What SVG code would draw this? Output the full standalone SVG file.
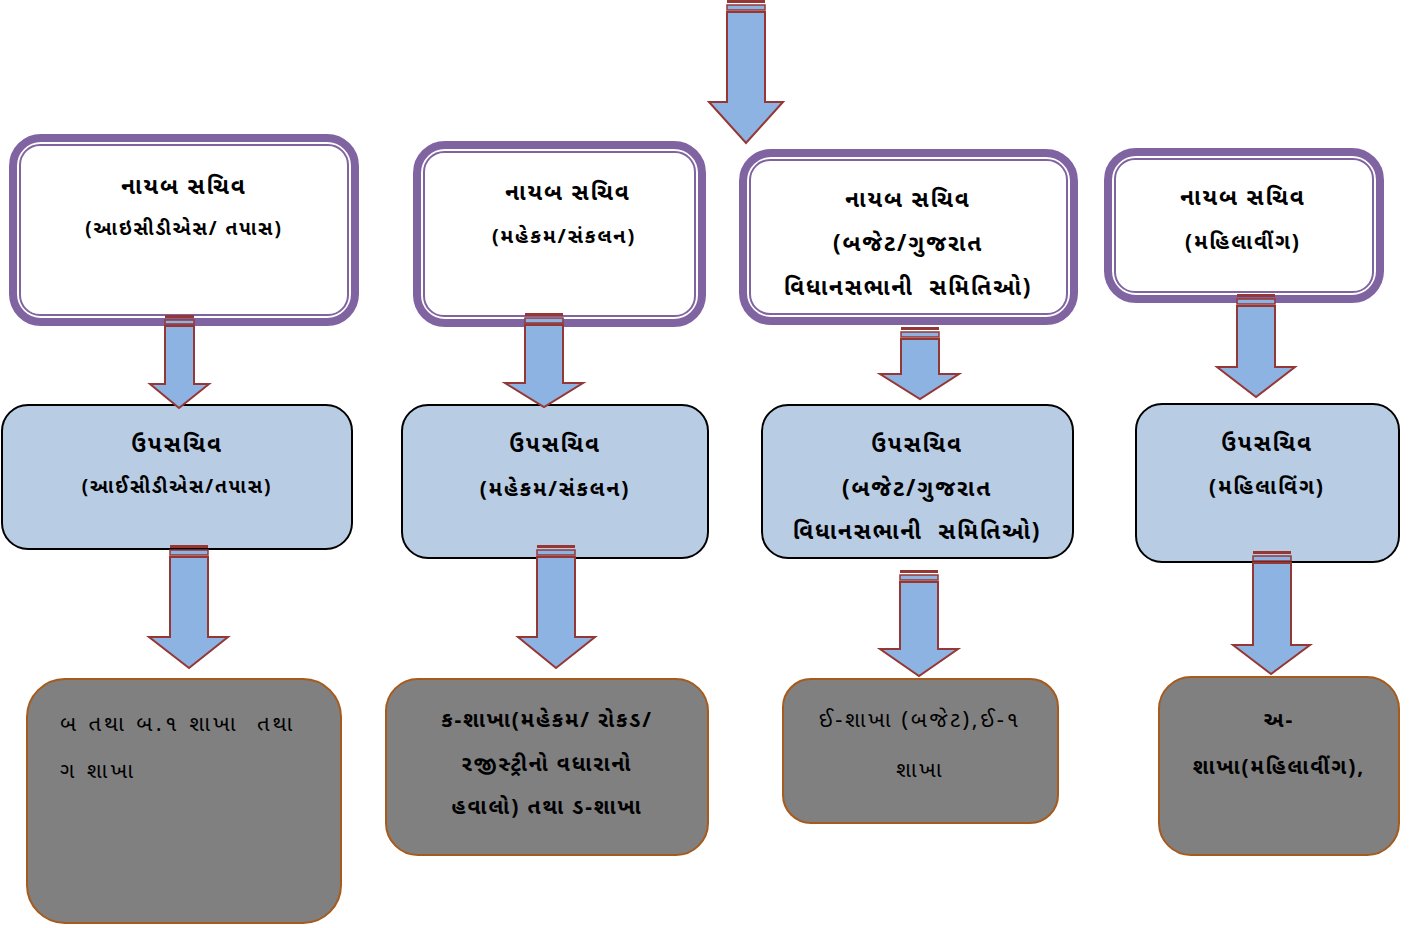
<svg xmlns="http://www.w3.org/2000/svg" width="1424" height="928" viewBox="0 0 1424 928">
<style>
text{font-family:"Noto Sans Gujarati","Noto Sans","DejaVu Sans",sans-serif;fill:#000;text-anchor:middle;white-space:pre}
.b{font-weight:bold;letter-spacing:1.9px}
.r{letter-spacing:2.6px}
.r2{letter-spacing:3.3px}
.outer{fill:#fff;stroke:#8064a2;stroke-width:8}
.inner{fill:none;stroke:#8064a2;stroke-width:2}
.mid{fill:#b8cce4;stroke:#000;stroke-width:2}
.low{fill:#808080;stroke:#a65a1b;stroke-width:2}
.arr{fill:#8db3e2;stroke:#953735;stroke-width:2;stroke-linejoin:miter}
.bar{fill:#953735}
.bar2{fill:#8db3e2;stroke:#953735;stroke-width:1.5}
</style>

<g id="top1">
<rect class="outer" x="13" y="138" width="342" height="184" rx="28"/>
<rect class="inner" x="20" y="145" width="328" height="170" rx="20"/>
<text class="b" x="184" y="194" font-size="22.5">નાયબ સચિવ</text>
<text class="b" x="184" y="235" font-size="19">(આઇસીડીએસ/ તપાસ)</text>
</g>
<g id="top2">
<rect class="outer" x="417" y="145" width="285" height="178" rx="28"/>
<rect class="inner" x="424" y="152" width="271" height="164" rx="20"/>
<text class="b" x="568" y="200" font-size="22.5">નાયબ સચિવ</text>
<text class="b" x="564" y="243" font-size="20">(મહેકમ/સંકલન)</text>
</g>
<g id="top3">
<rect class="outer" x="743" y="153" width="331" height="168" rx="28"/>
<rect class="inner" x="750" y="160" width="317" height="154" rx="20"/>
<text class="b" x="908" y="207" font-size="22.5">નાયબ સચિવ</text>
<text class="b" x="908" y="251" font-size="22.5">(બજેટ/ગુજરાત</text>
<text class="b" x="908" y="295" font-size="22.5">વિધાનસભાની  સમિતિઓ)</text>
</g>
<g id="top4">
<rect class="outer" x="1108" y="152" width="272" height="147" rx="28"/>
<rect class="inner" x="1115" y="159" width="258" height="133" rx="20"/>
<text class="b" x="1243" y="205" font-size="22.5">નાયબ સચિવ</text>
<text class="b" x="1243" y="249" font-size="21">(મહિલાવીંગ)</text>
</g>

<g id="mid1">
<rect class="mid" x="2" y="405" width="350" height="144" rx="26"/>
<text class="b" x="177" y="452" font-size="22.5">ઉપસચિવ</text>
<text class="b" x="177" y="493" font-size="19">(આઈસીડીએસ/તપાસ)</text>
</g>
<g id="mid2">
<rect class="mid" x="402" y="405" width="306" height="153" rx="26"/>
<text class="b" x="555" y="452" font-size="22.5">ઉપસચિવ</text>
<text class="b" x="555" y="496" font-size="21">(મહેકમ/સંકલન)</text>
</g>
<g id="mid3">
<rect class="mid" x="762" y="405" width="311" height="153" rx="26"/>
<text class="b" x="917" y="452" font-size="22.5">ઉપસચિવ</text>
<text class="b" x="917" y="496" font-size="22.5">(બજેટ/ગુજરાત</text>
<text class="b" x="917" y="539" font-size="22.5">વિધાનસભાની  સમિતિઓ)</text>
</g>
<g id="mid4">
<rect class="mid" x="1136" y="404" width="263" height="158" rx="26"/>
<text class="b" x="1267" y="451" font-size="22.5">ઉપસચિવ</text>
<text class="b" x="1267" y="494" font-size="21">(મહિલાવિંગ)</text>
</g>

<g id="low1">
<rect class="low" x="27" y="679" width="314" height="244" rx="38"/>
<text class="r2" x="60" y="731" font-size="22" style="text-anchor:start">બ તથા બ.૧ શાખા  તથા</text>
<text class="r2" x="60" y="778" font-size="22" style="text-anchor:start">ગ શાખા</text>
</g>
<g id="low2">
<rect class="low" x="386" y="679" width="322" height="176" rx="32"/>
<text class="b" x="547" y="727" font-size="21">ક-શાખા(મહેકમ/ રોકડ/</text>
<text class="b" x="547" y="771" font-size="21">રજીસ્ટ્રીનો વધારાનો</text>
<text class="b" x="547" y="814" font-size="21">હવાલો) તથા ડ-શાખા</text>
</g>
<g id="low3">
<rect class="low" x="783" y="679" width="275" height="144" rx="28"/>
<text class="r" x="920" y="727" font-size="22">ઈ-શાખા (બજેટ),ઈ-૧</text>
<text class="r" x="920" y="777" font-size="22">શાખા</text>
</g>
<g id="low4">
<rect class="low" x="1159" y="677" width="240" height="178" rx="32"/>
<text class="b" x="1279" y="727" font-size="21">અ-</text>
<text class="b" x="1279" y="774" font-size="21">શાખા(મહિલાવીંગ),</text>
</g>

<g id="connectors">
<g id="arrow-top">
<rect class="bar" x="727" y="0" width="38" height="3"/>
<rect class="bar2" x="727" y="5" width="38" height="5"/>
<polygon class="arr" points="727,12 765,12 765,102 783,102 746,143 709,102 727,102"/>
</g>
<g id="arrow-a1">
<rect class="bar" x="165" y="315" width="29" height="3"/>
<rect class="bar2" x="165" y="320" width="29" height="4"/>
<polygon class="arr" points="165,326 194,326 194,384 209,384 179,408 150,384 165,384"/>
</g>
<g id="arrow-a2">
<rect class="bar" x="525" y="313" width="38" height="3"/>
<rect class="bar2" x="525" y="318" width="38" height="5"/>
<polygon class="arr" points="525,325 563,325 563,383 583,383 544,407 505,383 525,383"/>
</g>
<g id="arrow-a3">
<rect class="bar" x="901" y="327" width="38" height="3"/>
<rect class="bar2" x="901" y="332" width="38" height="5"/>
<polygon class="arr" points="901,339 939,339 939,374 959,374 920,399 880,374 901,374"/>
</g>
<g id="arrow-a4">
<rect class="bar" x="1237" y="294" width="38" height="3"/>
<rect class="bar2" x="1237" y="299" width="38" height="5"/>
<polygon class="arr" points="1237,306 1275,306 1275,367 1295,367 1256,397 1217,367 1237,367"/>
</g>
<g id="arrow-b1">
<rect class="bar" x="170" y="545" width="38" height="3"/>
<rect class="bar2" x="170" y="550" width="38" height="5"/>
<polygon class="arr" points="170,557 208,557 208,637 228,637 189,668 149,637 170,637"/>
</g>
<g id="arrow-b2">
<rect class="bar" x="537" y="545" width="38" height="3"/>
<rect class="bar2" x="537" y="550" width="38" height="5"/>
<polygon class="arr" points="537,557 575,557 575,637 595,637 556,668 518,637 537,637"/>
</g>
<g id="arrow-b3">
<rect class="bar" x="900" y="570" width="38" height="3"/>
<rect class="bar2" x="900" y="575" width="38" height="5"/>
<polygon class="arr" points="900,582 938,582 938,649 958,649 919,676 880,649 900,649"/>
</g>
<g id="arrow-b4">
<rect class="bar" x="1253" y="551" width="38" height="3"/>
<rect class="bar2" x="1253" y="556" width="38" height="5"/>
<polygon class="arr" points="1253,563 1291,563 1291,645 1310,645 1271,674 1233,645 1253,645"/>
</g>
</g>
</svg>
